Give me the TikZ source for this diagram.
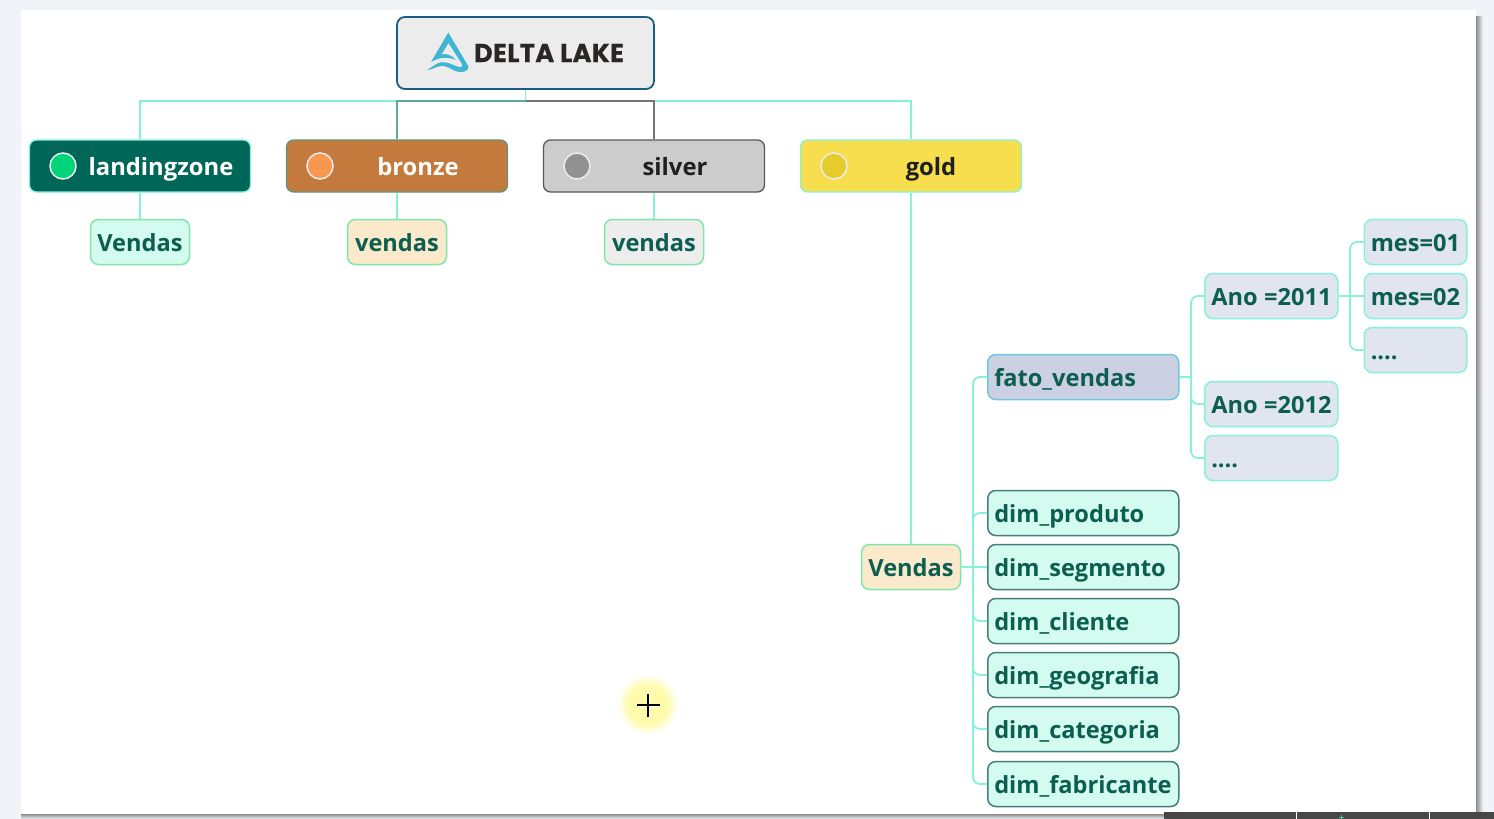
\documentclass[tikz,border=0pt]{standalone}
\usepackage{fontspec}
\setmainfont{Open Sans}
\newfontfamily\logofont[LetterSpace=1.2,BoldFeatures={FakeBold=0.4}]{Poppins}
\definecolor{pagebg}{HTML}{F1F3F9}
\definecolor{edge}{HTML}{86F2DA}
\definecolor{txt}{HTML}{0B5E50}
\definecolor{minty}{HTML}{D3FBEF}
\definecolor{cream}{HTML}{FAEACB}
\definecolor{lilac}{HTML}{E1E5F0}
\definecolor{fatoc}{HTML}{CBD0E2}
\definecolor{rootedge}{HTML}{1A5E82}
\definecolor{lzfill}{HTML}{006657}
\definecolor{brfill}{HTML}{C47A3D}
\definecolor{bredge}{HTML}{60967A}
\definecolor{gofill}{HTML}{F6DE4F}
\definecolor{lzdot}{HTML}{00D47A}
\definecolor{brdot}{HTML}{F9964F}
\definecolor{godot}{HTML}{E6CB2B}
\definecolor{childedge}{HTML}{7FE8A8}
\definecolor{fatoedge}{HTML}{6EC8E1}
\definecolor{dimedge}{HTML}{467D7D}
\definecolor{brline}{HTML}{5FAAA0}
\definecolor{logoblue}{HTML}{3FB6D3}
\definecolor{logotext}{HTML}{2B2626}
\definecolor{barmark}{HTML}{3CC8A0}
\tikzset{
  x=1pt,y=-1pt,
  box/.style={rounded corners=8pt,line width=1.5pt,draw=#1,font=\fontsize{23.6}{28}\selectfont\bfseries,text=txt,text height=20pt,text depth=2pt,inner xsep=0pt,inner ysep=0pt,align=left},
  child/.style={box=#1,minimum height=45pt},
  conn/.style={draw=edge,line width=1.8pt,rounded corners=7pt},
  connsharp/.style={draw=edge,line width=1.8pt},
  zone/.style={rounded corners=7pt,line width=1.3pt,minimum width=221pt,minimum height=52pt,inner sep=0pt},
  zonelabel/.style={font=\fontsize{23.8}{28}\selectfont\bfseries,inner sep=0pt,anchor=base},
  dot/.style={circle,draw=#1,line width=1.5pt,minimum size=26pt,inner sep=0pt},
}
\begin{document}
\begin{tikzpicture}
\useasboundingbox (0,0) rectangle (1494,819);
% page
\fill[pagebg] (0,0) rectangle (1494,819);
\shade[left color=black!45,right color=pagebg] (1476,16) rectangle (1483,819);
\shade[top color=black!45,bottom color=pagebg] (21,814) rectangle (1483,819);
\fill[white] (21,10) rectangle (1476,814);
% bottom bar
\fill[black!72] (1164,812) rectangle (1494,819);
\fill[white] (1296,812) rectangle (1297,819);
\fill[white] (1429,812) rectangle (1430,819);
\fill[barmark] (1340.5,815) rectangle (1342,819);
\fill[barmark] (1339,817) rectangle (1344,818);
% cursor glow
\foreach \r/\p in {30/2,29/5,28/9,27/12,26/15,25/18,24/21,23/24,22/26,21/28,20/30,19/32,18/33}{
  \fill[yellow!\p!white] (648,705) circle (\r);
}
\draw[white,line width=3pt] (636,705) -- (660,705) (648,693) -- (648,717);
\draw[black,line width=1.1pt] (636.5,705) -- (659.5,705) (648,693.5) -- (648,716.5);
% coordinates
\coordinate (bus) at (525.5,101);
\coordinate (tA) at (973,567);
\coordinate (tB) at (1191,377);
\coordinate (tC) at (1350,296);
% nodes
\node[rounded corners=8pt,draw=rootedge,fill=black!7.5,line width=1.8pt,minimum width=257pt,minimum height=72pt,inner sep=0pt] (root) at (525.5,53) {};
\node[zone,draw=edge,fill=lzfill] (lz) at (140,166) {};
\node[zone,draw=bredge,fill=brfill] (br) at (397,166) {};
\node[zone,draw=black!65,fill=black!20] (si) at (654,166) {};
\node[zone,draw=edge,fill=gofill] (go) at (911,166) {};
\node[zonelabel,text=white] (lzt) at (161,175.5) {landingzone};
\node[zonelabel,text=white] (brt) at (418,175.5) {bronze};
\node[zonelabel,text=black!88] (sit) at (675,175.5) {silver};
\node[zonelabel,text=black!88] (got) at (931,175.5) {gold};
\node[dot=black!7,fill=lzdot] (lzd) at (63,166) {};
\node[dot=black!7,fill=brdot] (brd) at (320,166) {};
\node[dot=black!7,fill=black!43] (sid) at (577,166) {};
\node[dot=black!7,fill=godot] (god) at (834,166) {};
\node[child=childedge,fill=minty,minimum width=99pt] (v1) at (140,242) {Vendas};
\node[child=childedge,fill=cream,minimum width=99pt] (v2) at (397,242) {vendas};
\node[child=childedge,fill=black!7,minimum width=99pt] (v3) at (654,242) {vendas};
\node[child=childedge,fill=cream,minimum width=99pt] (v4) at (911,567) {Vendas};
\node[child=fatoedge,fill=fatoc,anchor=west,minimum width=191pt,text width=191pt] (fato) at (987,377) {\mbox{\hspace*{6.5pt}fato\_vendas}};
\foreach \n/\y/\t in {dp/513/dim\_produto,ds/567/dim\_segmento,dc/621/dim\_cliente,dg/675/dim\_geografia,dt/729/dim\_categoria,df/784/dim\_fabricante}{
  \node[child=dimedge,fill=minty,anchor=west,minimum width=191pt,text width=191pt] (\n) at (987,\y) {\mbox{\hspace*{6.5pt}\t}};
}
\node[child=edge,fill=lilac,anchor=west,minimum width=133pt,text width=133pt] (a1) at (1204,296) {\mbox{\hspace*{6.5pt}Ano\hspace{0.28em}=2011}};
\node[child=edge,fill=lilac,anchor=west,minimum width=133pt,text width=133pt] (a2) at (1204,404) {\mbox{\hspace*{6.5pt}Ano\hspace{0.28em}=2012}};
\node[child=edge,fill=lilac,anchor=west,minimum width=133pt,text width=133pt] (a3) at (1204,458) {\mbox{\hspace*{6.5pt}....}};
\node[child=edge,fill=lilac,anchor=west,minimum width=102.5pt,text width=102.5pt] (m1) at (1363.5,242) {\mbox{\hspace*{6.5pt}mes=01}};
\node[child=edge,fill=lilac,anchor=west,minimum width=102.5pt,text width=102.5pt] (m2) at (1363.5,296) {\mbox{\hspace*{6.5pt}mes=02}};
\node[child=edge,fill=lilac,anchor=west,minimum width=102.5pt,text width=102.5pt] (m3) at (1363.5,350) {\mbox{\hspace*{6.5pt}....}};
% connectors
\draw[connsharp] (root.south) -- (bus);
\draw[connsharp] (bus) -| (lz.north);
\draw[connsharp] (bus) -| (go.north);
\draw[draw=brline,line width=1.5pt] (bus) -| (br.north);
\draw[draw=black!55,line width=1.5pt] (bus) -| (si.north);
\draw[connsharp] (lz.south) -- (v1.north);
\draw[connsharp] (br.south) -- (v2.north);
\draw[connsharp] (si.south) -- (v3.north);
\draw[connsharp] (go.south) -- (v4.north);
\draw[connsharp] (v4.east) -- (ds.west);
\draw[conn] (tA) |- (fato.west);
\draw[conn] (tA) |- (dp.west);
\draw[conn] (tA) |- (dc.west);
\draw[conn] (tA) |- (dg.west);
\draw[conn] (tA) |- (dt.west);
\draw[conn] (tA) |- (df.west);
\draw[connsharp] (fato.east) -- (tB);
\draw[conn] (tB) |- (a1.west);
\draw[conn] (tB) |- (a2.west);
\draw[conn] (tB) |- (a3.west);
\draw[connsharp] (a1.east) -- (m2.west);
\draw[conn] (tC) |- (m1.west);
\draw[conn] (tC) |- (m3.west);
% logo
\fill[logoblue,even odd rule] (448.3,32.5) -- (468.5,66.5) .. controls (469,71) and (462,73.5) .. (457,71.5) .. controls (450,69) and (447,65.5) .. (441,66) .. controls (436,66.5) and (432,70) .. (427,70) .. controls (431,68) and (435,64) .. (440,62.5) .. controls (447,61) and (452,65) .. (459,67) .. controls (462,67.5) and (463,66) .. (462,64) -- (448.5,43) -- (441.5,54.5) .. controls (446,53) and (452,55) .. (456,60) .. controls (450,57.5) and (441,56) .. (431,62) -- cycle;
\node[font=\logofont\fontsize{25.7}{28}\selectfont\bfseries,text=logotext,inner sep=0pt,anchor=base] (logo) at (549,62) {DELTA LAKE};
\end{tikzpicture}
\end{document}
